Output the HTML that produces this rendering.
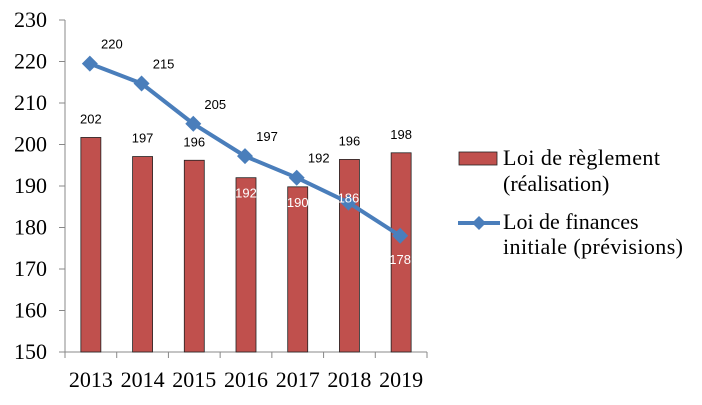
<!DOCTYPE html>
<html><head><meta charset="utf-8"><style>
body{margin:0;background:#fff;}
svg{display:block;}
</style></head><body>
<svg width="702" height="405" xmlns="http://www.w3.org/2000/svg">
<g id="g"></g>
</svg>
<script>
const categories=["2013","2014","2015","2016","2017","2018","2019"];
const barValues=[201.7,197.1,196.2,192,189.8,196.4,198];
const barLabels=["202","197","196","192","190","196","198"];
const lineValues=[219.5,214.7,205,197.2,192,186,178];
const lineLabels=["220","215","205","197","192","186","178"];
const yTicks=[150,160,170,180,190,200,210,220,230];
const NS="http://www.w3.org/2000/svg";
const g=document.getElementById('g');
const X0=65,X1=427,Y0=352,Y1=20,ymin=150,ymax=230;
const bw=(X1-X0)/categories.length;
const xc=i=>X0+bw*(i+0.5);
const y=v=>Y0-(v-ymin)/(ymax-ymin)*(Y0-Y1);
function mk(t,a,txt){const e=document.createElementNS(NS,t);for(const k in a)e.setAttribute(k,a[k]);if(txt!=null)e.textContent=txt;g.appendChild(e);return e;}
let ax=mk('line',{x1:X0,y1:Y1,x2:X0,y2:Y0,stroke:'#888','stroke-width':1});


let bx=mk('line',{x1:X0,y1:Y0,x2:X1,y2:Y0,stroke:'#888','stroke-width':1});


yTicks.forEach(t=>{
 mk('line',{x1:X0-6,y1:y(t),x2:X0,y2:y(t),stroke:'#888'});
 let l=mk('text',{x:X0-18,y:y(t)+7,'text-anchor':'end','font-family':'Liberation Serif, serif','font-size':22,fill:'#000'},t);
 
 
});
for(let i=0;i<=categories.length;i++)mk('line',{x1:X0+bw*i,y1:Y0,x2:X0+bw*i,y2:Y0+6,stroke:'#888'});
categories.forEach((c,i)=>{
 let l=mk('text',{x:xc(i),y:Y0+35,'text-anchor':'middle','font-family':'Liberation Serif, serif','font-size':22,fill:'#000'},c);
 
 
});
barValues.forEach((v,i)=>{
 let b=mk('rect',{x:xc(i)-10,y:y(v),width:20,height:Y0-y(v),fill:'#c0504d',stroke:'#222','stroke-width':0.8});
 
 
});
let pl=mk('polyline',{points:lineValues.map((v,i)=>(xc(i)-1)+','+y(v)).join(' '),fill:'none',stroke:'#4a7ebb','stroke-width':4,'stroke-linejoin':'round'});


barValues.forEach((v,i)=>{
 const d=lineValues[i]-v;
 let l;
 if(d>0&&d<6) l=mk('text',{x:xc(i),y:y(v)+20,'text-anchor':'middle','font-family':'Liberation Sans, sans-serif','font-size':13,fill:'#fff'},barLabels[i]);
 else l=mk('text',{x:xc(i),y:y(v)-14,'text-anchor':'middle','font-family':'Liberation Sans, sans-serif','font-size':13,fill:'#000'},barLabels[i]);
 
 
});
lineValues.forEach((v,i)=>{
 const cx=xc(i)-1,cy=y(v);
 let p=mk('polygon',{points:`${cx},${cy-8} ${cx+8},${cy} ${cx},${cy+8} ${cx-8},${cy}`,fill:'#4a7ebb'});
 
 
 const below=v<barValues[i];
 let l;
 if(below){
  const off=(barValues[i]-v)>15?28:0;
  l=mk('text',{x:cx,y:cy+off,'text-anchor':'middle','font-family':'Liberation Sans, sans-serif','font-size':13,fill:'#fff'},lineLabels[i]);
 }
 else l=mk('text',{x:cx+22,y:cy-15,'text-anchor':'middle','font-family':'Liberation Sans, sans-serif','font-size':13,fill:'#000'},lineLabels[i]);
 
 
});
let lr=mk('rect',{x:459,y:152,width:38,height:13,fill:'#c0504d',stroke:'#222','stroke-width':0.8});


const lf={'font-family':'Liberation Serif, serif','font-size':22,fill:'#000'};
let t1=mk('text',Object.assign({x:503,y:165,textLength:157},lf),'Loi de règlement');


let t2=mk('text',Object.assign({x:503,y:191},lf),'(réalisation)');


let ll=mk('line',{x1:458,y1:223,x2:500,y2:223,stroke:'#4a7ebb','stroke-width':4});


mk('polygon',{points:'479,216 486,223 479,230 472,223',fill:'#4a7ebb'});
let t3=mk('text',Object.assign({x:503,y:229},lf),'Loi de finances');


let t4=mk('text',Object.assign({x:503,y:254,textLength:180},lf),'initiale (prévisions)');


</script>
</body></html>
